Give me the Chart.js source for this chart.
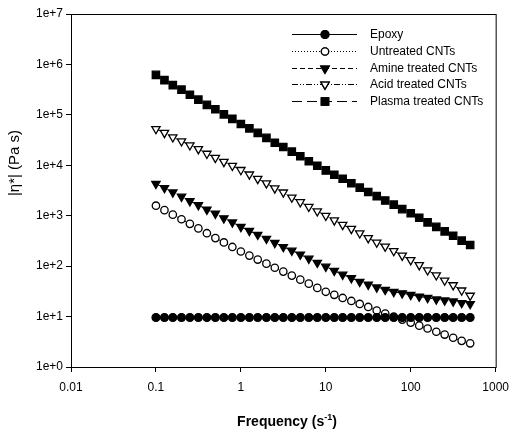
<!DOCTYPE html>
<html>
<head>
<meta charset="utf-8">
<script src="https://cdn.jsdelivr.net/npm/chart.js@4"></script>
<style>
  body { margin: 0; background: #fff; }
</style>
</head>
<body>
<canvas id="viscChart" width="517" height="432"></canvas>
<script>

// ===============================
// DATA
// ===============================

const frequency = [
  0.1, 0.126, 0.158, 0.2, 0.251, 0.316, 0.398, 0.501, 0.631, 0.794,
  1, 1.26, 1.58, 2, 2.51, 3.16, 3.98, 5.01, 6.31, 7.94,
  10, 12.6, 15.8, 20, 25.1, 31.6, 39.8, 50.1, 63.1, 79.4,
  100, 126, 158, 200, 251, 316, 398, 501
];

const epoxy = [
  9.6, 9.6, 9.6, 9.6, 9.6, 9.6, 9.6, 9.6, 9.6, 9.6,
  9.6, 9.6, 9.6, 9.6, 9.6, 9.6, 9.6, 9.6, 9.6, 9.6,
  9.6, 9.6, 9.6, 9.6, 9.6, 9.6, 9.6, 9.6, 9.6, 9.6,
  9.6, 9.6, 9.6, 9.6, 9.6, 9.6, 9.6, 9.6
];

const untreated = [
  1580, 1290, 1050, 850, 690, 560, 450, 360, 295, 240,
  195, 162, 135, 112, 93, 78, 65, 54, 45, 37,
  31, 27, 23.4, 20.4, 17.8, 15.5, 13.2, 11.5, 10, 8.7,
  7.6, 6.6, 5.8, 5.0, 4.4, 3.8, 3.3, 2.95
];

const amine = [
  4300, 3550, 2900, 2400, 1950, 1620, 1320, 1100, 890, 740,
  600, 500, 420, 350, 290, 240, 204, 170, 141, 117,
  98, 81, 68, 58, 49, 43, 38, 34, 31, 29,
  27, 25, 23.5, 22, 21, 20, 18.6, 17.8
];

const acid = [
  52500, 44000, 36000, 30000, 25000, 21000, 17000, 14100, 11700, 9800,
  8100, 6600, 5400, 4400, 3500, 2900, 2300, 1860, 1510, 1230,
  1000, 810, 660, 550, 450, 360, 295, 245, 200, 162,
  132, 105, 83, 66, 52, 42, 33, 26
];

const plasma = [
  620000, 490000, 390000, 316000, 250000, 200000, 158000, 129000, 102000, 83000,
  66000, 54000, 44000, 35000, 28000, 23000, 18600, 15100, 12000, 9800,
  7900, 6500, 5400, 4400, 3600, 2950, 2450, 2000, 1660, 1350,
  1120, 910, 740, 600, 490, 400, 320, 263
];

const xTickValues = [0.01, 0.1, 1, 10, 100, 1000];
const xTickLabels = ["0.01", "0.1", "1", "10", "100", "1000"];
const yTickValues = [1, 10, 100, 1000, 10000, 100000, 1000000, 10000000];
const yTickLabels = ["1e+0", "1e+1", "1e+2", "1e+3", "1e+4", "1e+5", "1e+6", "1e+7"];

const seriesNames = ["Epoxy", "Untreated CNTs", "Amine treated CNTs", "Acid treated CNTs", "Plasma treated CNTs"];


// ===============================
// DATASETS
// ===============================

function toPoints(values){
  return frequency.map((f, i) => ({ x: f, y: values[i] }));
}

const datasets = [
  {
    label: seriesNames[0],
    data: toPoints(epoxy),
    pointStyle: "circle", pointRadius: 3.9, pointRotation: 0,
    backgroundColor: "#000", borderDash: []
  },
  {
    label: seriesNames[1],
    data: toPoints(untreated),
    pointStyle: "circle", pointRadius: 3.7, pointRotation: 0,
    backgroundColor: "#fff", borderDash: [1, 2]
  },
  {
    label: seriesNames[2],
    data: toPoints(amine),
    pointStyle: "triangle", pointRadius: 4.8, pointRotation: 180,
    backgroundColor: "#000", borderDash: [5, 3]
  },
  {
    label: seriesNames[3],
    data: toPoints(acid),
    pointStyle: "triangle", pointRadius: 4.8, pointRotation: 180,
    backgroundColor: "#fff", borderDash: [6, 2, 1, 2, 1, 2]
  },
  {
    label: seriesNames[4],
    data: toPoints(plasma),
    pointStyle: "rect", pointRadius: 5.2, pointRotation: 0,
    backgroundColor: "#000", borderDash: [10, 5]
  }
].map(ds => Object.assign(ds, {
  showLine: true,
  borderColor: "#000",
  borderWidth: 1,
  pointBorderColor: "#000",
  pointBackgroundColor: ds.backgroundColor,
  pointBorderWidth: 1.3,
  tension: 0
}));


// ===============================
// PLUGINS
// ===============================

const frameAndText = {
  id: "frameAndText",
  afterDraw(chart){
    const ctx = chart.ctx;
    const a = chart.chartArea;

    // plot frame
    ctx.save();
    ctx.strokeStyle = "#000";
    ctx.lineWidth = 1;
    ctx.strokeRect(a.left + 0.5, a.top + 0.5, a.right - a.left, a.bottom - a.top);

    // legend
    const legendY = [34, 51, 68, 84, 101];
    chart.data.datasets.forEach((ds, i) => {
      const y = legendY[i] + 0.5;
      ctx.lineWidth = 1;
      ctx.setLineDash(ds.borderDash);
      ctx.beginPath();
      ctx.moveTo(292, y);
      ctx.lineTo(357, y);
      ctx.stroke();
      ctx.setLineDash([]);
      ctx.lineWidth = 1.3;
      ctx.fillStyle = ds.pointBackgroundColor;
      Chart.helpers.drawPoint(ctx, {
        pointStyle: ds.pointStyle,
        radius: ds.pointRadius,
        rotation: ds.pointRotation,
        borderWidth: 1.3
      }, 325, y);
      ctx.fill();
      ctx.stroke();

      ctx.fillStyle = "#000";
      ctx.font = "12px 'Liberation Sans', Arial, sans-serif";
      ctx.textAlign = "left";
      ctx.textBaseline = "middle";
      ctx.fillText(ds.label, 370, y);
    });

    // x title with superscript
    ctx.fillStyle = "#000";
    ctx.textBaseline = "alphabetic";
    ctx.textAlign = "left";
    const main = "Frequency (s";
    const sup = "-1";
    const close = ")";
    ctx.font = "bold 14px 'Liberation Sans', Arial, sans-serif";
    const w1 = ctx.measureText(main).width;
    const w3 = ctx.measureText(close).width;
    ctx.font = "bold 9px 'Liberation Sans', Arial, sans-serif";
    const w2 = ctx.measureText(sup).width;
    let x0 = 287 - (w1 + w2 + w3) / 2;
    const base = 426;
    ctx.font = "bold 14px 'Liberation Sans', Arial, sans-serif";
    ctx.fillText(main, x0, base);
    ctx.font = "bold 9px 'Liberation Sans', Arial, sans-serif";
    ctx.fillText(sup, x0 + w1, base - 6);
    ctx.font = "bold 14px 'Liberation Sans', Arial, sans-serif";
    ctx.fillText(close, x0 + w1 + w2, base);

    // y title
    ctx.translate(15, 163);
    ctx.rotate(-Math.PI / 2);
    ctx.textAlign = "center";
    ctx.textBaseline = "middle";
    ctx.font = "15px 'Liberation Sans', Arial, sans-serif";
    ctx.fillText("|\u03B7*| (Pa s)", 0, 0);
    ctx.restore();
  }
};


// ===============================
// CHART
// ===============================

const tickFont = { family: "'Liberation Sans', Arial, sans-serif", size: 12 };

new Chart(document.getElementById("viscChart"), {
  type: "scatter",
  data: { datasets: datasets },
  options: {
    responsive: false,
    animation: false,
    layout: { padding: { top: 14, right: 16, left: 0, bottom: 0 } },
    plugins: {
      legend: { display: false },
      tooltip: { enabled: false }
    },
    scales: {
      x: {
        type: "logarithmic",
        min: 0.01,
        max: 1000,
        afterBuildTicks: scale => { scale.ticks = xTickValues.map(v => ({ value: v })); },
        afterFit: scale => { scale.height = 65; },
        ticks: {
          color: "#000",
          font: tickFont,
          padding: 8,
          maxRotation: 0,
          autoSkip: false,
          callback: value => xTickLabels[xTickValues.indexOf(value)]
        },
        grid: { drawOnChartArea: false, drawTicks: true, tickLength: 5, color: "#000" },
        border: { color: "#000", width: 1 }
      },
      y: {
        type: "logarithmic",
        min: 1,
        max: 10000000,
        afterBuildTicks: scale => { scale.ticks = yTickValues.map(v => ({ value: v })); },
        afterFit: scale => { scale.width = 71; },
        ticks: {
          color: "#000",
          font: tickFont,
          padding: 3,
          autoSkip: false,
          callback: value => yTickLabels[yTickValues.indexOf(value)]
        },
        grid: { drawOnChartArea: false, drawTicks: true, tickLength: 5, color: "#000" },
        border: { color: "#000", width: 1 }
      }
    }
  },
  plugins: [frameAndText]
});
</script>
</body>
</html>
